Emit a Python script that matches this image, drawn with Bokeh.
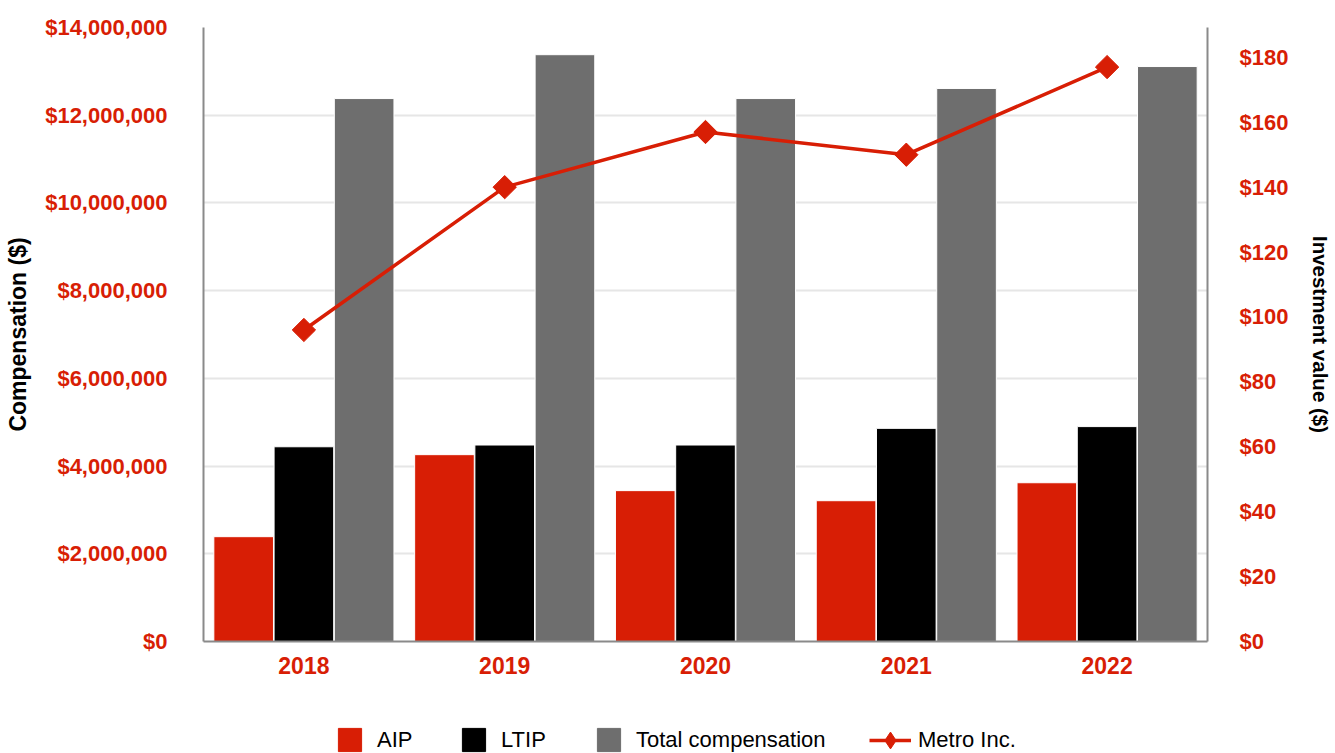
from bokeh.plotting import figure
from bokeh.layouts import column
from bokeh.models import (FactorRange, Range1d, LinearAxis, SingleIntervalTicker,
                          NumeralTickFormatter, PrintfTickFormatter, Legend, LegendItem,
                          ColumnDataSource)
from bokeh.transform import dodge
from bokeh.embed import file_html
from bokeh.resources import INLINE
import numpy as np

years = ["2018", "2019", "2020", "2021", "2022"]
aip = [2390000, 4260000, 3440000, 3210000, 3620000]
ltip = [4440000, 4480000, 4480000, 4860000, 4900000]
total = [12380000, 13380000, 12380000, 12610000, 13110000]
metro = [96, 140, 157, 150, 177]
series_names = ["AIP", "LTIP", "Total compensation", "Metro Inc."]

RED = "#D81E05"
GRAY = "#6E6E6E"
FONT = "'Liberation Sans Narrow', 'Arial Narrow', 'Liberation Sans', sans-serif"

src = ColumnDataSource(dict(years=years, aip=aip, ltip=ltip, total=total, metro=metro))

p = figure(width=1335, height=713, x_range=FactorRange(*years, range_padding=0),
           y_range=Range1d(0, 14000000), output_backend="svg", toolbar_location=None,
           min_border_left=203, min_border_right=123, min_border_top=27, min_border_bottom=72)
p.outline_line_color = None
p.extra_y_ranges = {"inv": Range1d(0, 189.2)}

w = 0.297
p.vbar(x=dodge("years", -0.3, range=p.x_range), top="aip", width=w, source=src,
       fill_color=RED, line_color="white", line_width=1)
p.vbar(x=dodge("years", 0.0, range=p.x_range), top="ltip", width=w, source=src,
       fill_color="black", line_color="white", line_width=1)
p.vbar(x=dodge("years", 0.3, range=p.x_range), top="total", width=w, source=src,
       fill_color=GRAY, line_color="white", line_width=1)
p.line(x="years", y="metro", source=src, y_range_name="inv", line_color=RED, line_width=3.5)
p.scatter(x="years", y="metro", source=src, y_range_name="inv", marker="square",
          angle=np.pi / 4, size=16.5, fill_color=RED, line_color=RED)

# left axis
ya = p.yaxis[0]
ya.ticker = SingleIntervalTicker(interval=2000000)
ya.formatter = NumeralTickFormatter(format="$0,0")
ya.axis_label = "Compensation ($)"

# right axis
ra = LinearAxis(y_range_name="inv", ticker=SingleIntervalTicker(interval=20),
                formatter=PrintfTickFormatter(format="$%d"),
                axis_label="Investment value ($)")
p.add_layout(ra, "right")

for ax in (ya, ra):
    ax.major_label_text_font = FONT
    ax.major_label_text_font_style = "bold"
    ax.major_label_text_font_size = "22px"
    ax.major_label_text_color = RED
    ax.axis_label_text_font = FONT
    ax.axis_label_text_font_style = "bold"
    ax.axis_label_text_color = "black"
    ax.axis_line_color = "#8A8A8A"
    ax.axis_line_width = 2
    ax.major_tick_line_color = None
    ax.minor_tick_line_color = None
    ax.major_tick_out = 0
    ax.major_tick_in = 0
ya.axis_label_text_font_size = "23px"
ra.axis_label_text_font_size = "20.5px"
ya.major_label_standoff = 32
ya.axis_label_standoff = 11
ra.major_label_standoff = 28
ra.axis_label_standoff = 18

xa = p.xaxis[0]
xa.major_label_text_font = FONT
xa.major_label_text_font_style = "bold"
xa.major_label_text_font_size = "23px"
xa.major_label_text_color = RED
xa.axis_line_color = "#8A8A8A"
xa.axis_line_width = 2
xa.major_tick_line_color = None
xa.minor_tick_line_color = None
xa.major_tick_out = 0
xa.major_tick_in = 0
xa.major_label_standoff = 15

p.xgrid.grid_line_color = None
p.ygrid.grid_line_color = "#E6E6E6"
p.ygrid.grid_line_width = 2

# legend strip below the chart (frame is aligned with the chart's frame)
lg = figure(width=1335, height=40, x_range=Range1d(0, 1), y_range=Range1d(0, 1),
            output_backend="svg", toolbar_location=None,
            x_axis_location=None, y_axis_location=None, min_border=0)
lg.outline_line_color = None
lg.grid.grid_line_color = None
nan = [np.nan]
e1 = lg.vbar(x=nan, top=nan, width=0.1, fill_color=RED, line_color=RED)
e2 = lg.vbar(x=nan, top=nan, width=0.1, fill_color="black", line_color="black")
e3 = lg.vbar(x=nan, top=nan, width=0.1, fill_color=GRAY, line_color=GRAY)
e4 = lg.line(x=nan, y=nan, line_color=RED, line_width=3.5)
e5 = lg.scatter(x=nan, y=nan, marker="diamond", fill_color=RED, line_color=RED)

specs = [([e1], 132, 29, 29, 13), ([e2], 256, 29, 29, 13), ([e3], 391, 29, 29, 13),
         ([e4, e5], 666, 42, 42, 7)]
for name, (rs, x0, gw, gh, st) in zip(series_names, specs):
    leg = Legend(items=[LegendItem(label=name, renderers=rs)],
                 location=(x0, 13.5 - max(gh, 26) / 2),
                 glyph_width=gw, glyph_height=gh, label_standoff=st,
                 padding=0, margin=0, border_line_color=None, background_fill_alpha=0,
                 label_text_font=FONT, label_text_font_size="22px", label_text_color="black",
                 label_height=26)
    lg.add_layout(leg, "center")

open("out.html", "w").write(file_html(column(p, lg), INLINE))
